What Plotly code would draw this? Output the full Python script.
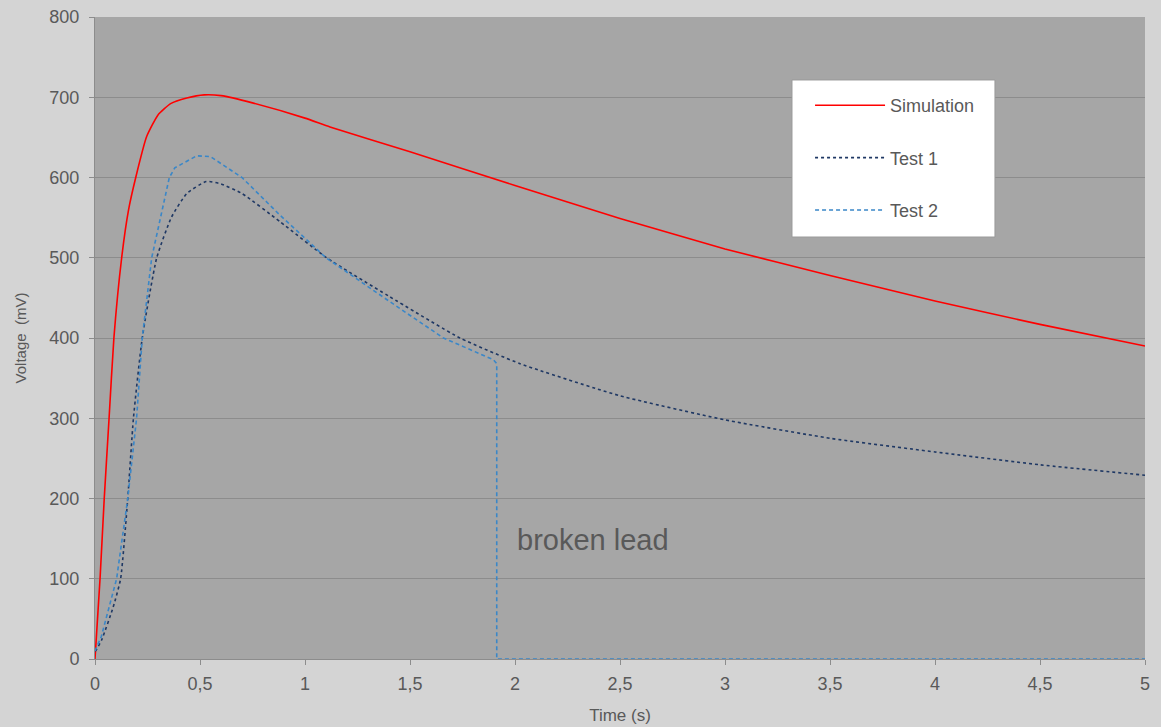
import plotly.graph_objects as go

# ---- data ----
sim_t = [0, 0.024, 0.044, 0.067, 0.09, 0.127, 0.16, 0.194, 0.246, 0.3, 0.36, 0.437, 0.52, 0.6, 0.75, 1.0, 1.119,
         1.5, 2.0, 2.5, 3.0, 3.5, 4.0, 4.5, 5.0]
sim_v = [0, 100, 200, 300, 400, 500, 560, 600, 651, 678, 692, 699, 703, 702, 693, 674, 663,
         632, 590, 549, 511, 478, 446, 417, 390]

t1_t = [0, 0.005, 0.032, 0.087, 0.122, 0.156, 0.183, 0.225, 0.294, 0.365, 0.437, 0.53, 0.6, 0.7, 0.881,
        1.103, 1.4, 1.738, 2.024, 2.5, 3.0, 3.5, 4.0, 4.5, 5.0]
t1_v = [10, 11, 24, 65, 100, 200, 300, 400, 500, 551, 580, 595, 592, 580, 545,
        500, 452, 400, 368, 328, 298, 275, 258, 242, 229]

t2_t = [0, 0.03, 0.103, 0.156, 0.198, 0.225, 0.27, 0.33, 0.354, 0.38, 0.484, 0.55, 0.7, 0.881,
        1.1, 1.4, 1.659, 1.897, 1.913, 1.913, 5.0]
t2_v = [10, 28, 100, 200, 300, 400, 500, 571, 600, 612, 627, 626, 600, 553,
        500, 446, 400, 373, 368, 0, 0]

x_ticks = [0, 0.5, 1, 1.5, 2, 2.5, 3, 3.5, 4, 4.5, 5]
x_ticktext = ["0", "0,5", "1", "1,5", "2", "2,5", "3", "3,5", "4", "4,5", "5"]
y_ticks = [0, 100, 200, 300, 400, 500, 600, 700, 800]

annot_text = "broken lead"
annot_x, annot_y = 2.0, 148

FONT = "Liberation Sans, Arial"
TXT = "#595959"

# ---- figure ----
fig = go.Figure()
fig.add_trace(go.Scatter(x=sim_t, y=sim_v, mode="lines", name="Simulation", legendgroup="a",
                         line=dict(color="#ff0000", width=1.6, shape="spline", smoothing=0.5)))
fig.add_trace(go.Scatter(x=t1_t, y=t1_v, mode="lines", name="Test 1", legendgroup="b",
                         line=dict(color="#1f3864", width=1.6, dash="dot", shape="spline", smoothing=0.5)))
fig.add_trace(go.Scatter(x=t2_t, y=t2_v, mode="lines", name="Test 2", legendgroup="c",
                         line=dict(color="#3a87c8", width=1.6, dash="4px,3px")))

fig.add_annotation(x=annot_x, y=annot_y, text=annot_text, showarrow=False, xanchor="left", yanchor="middle",
                   font=dict(family=FONT, size=29, color=TXT))

# legend frame (white box drawn behind the transparent legend)
fig.add_shape(type="rect", xref="paper", yref="paper", x0=0.6638, x1=0.8571, y0=0.6573, y1=0.9019,
              fillcolor="#ffffff", line=dict(color="#9a9a9a", width=1), layer="above")

axis_common = dict(showline=True, linecolor="#8c8c8c", linewidth=1, gridcolor="#8c8c8c", gridwidth=1,
                   ticks="outside", ticklen=5, tickcolor="#8c8c8c", zeroline=False, automargin=False,
                   tickfont=dict(family=FONT, size=18, color=TXT))

fig.update_layout(
    width=1161, height=727, autosize=False,
    margin=dict(l=95, r=16, t=17, b=68, autoexpand=False),
    paper_bgcolor="#d4d4d4", plot_bgcolor="#a6a6a6",
    font=dict(family=FONT, color=TXT),
    xaxis=dict(range=[0, 5], tickvals=x_ticks, ticktext=x_ticktext, showgrid=False,
               ticklabelstandoff=3,
               title=dict(text="Time (s)", font=dict(size=17, color=TXT), standoff=16),
               **axis_common),
    yaxis=dict(range=[0, 800], tickvals=y_ticks, showgrid=True, ticklabelstandoff=6,
               title=dict(text="Voltage  (mV)", font=dict(size=15, color=TXT), standoff=19),
               **axis_common),
    legend=dict(x=0.681, y=0.891, xanchor="left", yanchor="top", bgcolor="rgba(0,0,0,0)",
                borderwidth=0, tracegroupgap=26,
                font=dict(family=FONT, size=18, color=TXT),
                itemwidth=70),
    showlegend=True,
)

fig.write_html("out.html", config={"displayModeBar": False},
               post_script="document.body.style.margin='0';")
